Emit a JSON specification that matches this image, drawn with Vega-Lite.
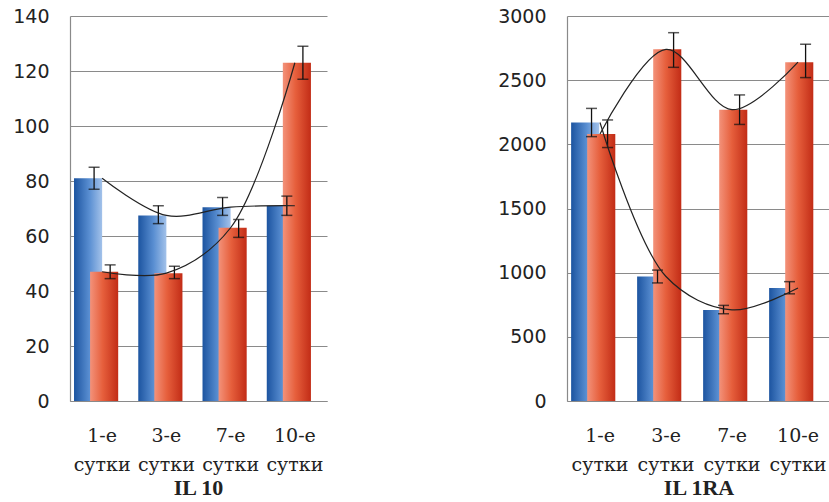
{
  "$schema": "https://vega.github.io/schema/vega-lite/v6.json",
  "padding": {"left": 12, "top": 7, "right": 0, "bottom": 0},
  "spacing": 170,
  "background": "white",
  "config": {
    "view": {"stroke": null},
    "axis": {"domainColor": "#8a8a8a", "gridColor": "#8a8a8a", "ticks": false, "domainWidth": 1.2}
  },
  "datasets": {
    "il10": [
      {"day": "1-е сутки", "s": "b", "v": 81, "lo": 77, "hi": 85},
      {"day": "3-е сутки", "s": "b", "v": 67.5, "lo": 64.5, "hi": 71},
      {"day": "7-е сутки", "s": "b", "v": 70.5, "lo": 67.5, "hi": 74},
      {"day": "10-е сутки", "s": "b", "v": 71, "lo": 67.5, "hi": 74.5},
      {"day": "1-е сутки", "s": "r", "v": 47, "lo": 44.5, "hi": 49.5},
      {"day": "3-е сутки", "s": "r", "v": 46.5, "lo": 44.5, "hi": 49},
      {"day": "7-е сутки", "s": "r", "v": 63, "lo": 59.5, "hi": 66},
      {"day": "10-е сутки", "s": "r", "v": 123, "lo": 117, "hi": 129}
    ],
    "il1ra": [
      {"day": "1-е сутки", "s": "b", "v": 2170, "lo": 2060, "hi": 2280},
      {"day": "3-е сутки", "s": "b", "v": 970, "lo": 920, "hi": 1020},
      {"day": "7-е сутки", "s": "b", "v": 710, "lo": 680, "hi": 745},
      {"day": "10-е сутки", "s": "b", "v": 880, "lo": 835, "hi": 930},
      {"day": "1-е сутки", "s": "r", "v": 2080, "lo": 1975, "hi": 2190},
      {"day": "3-е сутки", "s": "r", "v": 2740, "lo": 2600, "hi": 2870},
      {"day": "7-е сутки", "s": "r", "v": 2270, "lo": 2155, "hi": 2385},
      {"day": "10-е сутки", "s": "r", "v": 2640, "lo": 2520, "hi": 2780}
    ]
  },
  "hconcat": [
    {
      "width": 257,
      "height": 385,
      "data": {"name": "il10"},
      "title": {"text": "IL 10", "orient": "bottom", "font": "Liberation Serif", "fontSize": 22, "fontWeight": "bold", "color": "#222", "offset": 4},
      "encoding": {
        "x": {"field": "day", "type": "nominal", "sort": ["1-е сутки", "3-е сутки", "7-е сутки", "10-е сутки"],
              "scale": {"paddingInner": 0.5, "paddingOuter": 0.25},
              "axis": {"title": null, "labelAngle": 0, "labelExpr": "split(datum.label, ' ')", "labelFont": "DejaVu Serif", "labelFontSize": 19, "labelLineHeight": 29, "labelPadding": 25, "labelColor": "#222", "grid": false}},
        "y": {"type": "quantitative", "scale": {"domain": [0, 140]},
              "axis": {"title": null, "values": [0, 20, 40, 60, 80, 100, 120, 140], "format": "d", "labelFont": "DejaVu Sans", "labelFontSize": 19, "labelColor": "#222", "labelPadding": 21, "grid": true}}
      },
      "layer": [
        {"transform": [{"filter": "datum.s === 'b'"}],
         "mark": {"type": "bar", "width": {"band": 1.75}, "fill": {"gradient": "linear", "x1": 0, "y1": 0, "x2": 1, "y2": 0, "stops": [{"offset": 0, "color": "#1c54a0"}, {"offset": 0.55, "color": "#5a8fd2"}, {"offset": 1, "color": "#a3c2ea"}]}},
         "encoding": {"xOffset": {"field": "s", "scale": {"domain": ["b", "r"], "paddingInner": 0, "paddingOuter": 0}}, "y": {"field": "v", "type": "quantitative"}}},
        {"transform": [{"filter": "datum.s === 'r'"}],
         "mark": {"type": "bar", "width": {"band": 1.75}, "fill": {"gradient": "linear", "x1": 0, "y1": 0, "x2": 1, "y2": 0, "stops": [{"offset": 0, "color": "#f3927a"}, {"offset": 0.45, "color": "#e65f3c"}, {"offset": 1, "color": "#c22c16"}]}},
         "encoding": {"xOffset": {"field": "s", "scale": {"domain": ["b", "r"], "paddingInner": 0, "paddingOuter": 0}}, "y": {"field": "v", "type": "quantitative"}}},
        {"mark": {"type": "rule", "color": "#111", "strokeWidth": 1.3},
         "encoding": {"xOffset": {"field": "s"}, "y": {"field": "lo", "type": "quantitative"}, "y2": {"field": "hi"}}},
        {"mark": {"type": "tick", "color": "#111", "size": 11, "thickness": 1.5, "orient": "horizontal"},
         "encoding": {"xOffset": {"field": "s"}, "y": {"field": "lo", "type": "quantitative"}}},
        {"mark": {"type": "tick", "color": "#111", "size": 11, "thickness": 1.5, "orient": "horizontal"},
         "encoding": {"xOffset": {"field": "s"}, "y": {"field": "hi", "type": "quantitative"}}},
        {"mark": {"type": "line", "interpolate": "catmull-rom", "color": "#222", "strokeWidth": 1.2},
         "encoding": {"y": {"field": "v", "type": "quantitative"}, "detail": {"field": "s"}}}
      ]
    },
    {
      "width": 264,
      "height": 385,
      "data": {"name": "il1ra"},
      "title": {"text": "IL 1RA", "orient": "bottom", "font": "Liberation Serif", "fontSize": 22, "fontWeight": "bold", "color": "#222", "offset": 4},
      "encoding": {
        "x": {"field": "day", "type": "nominal", "sort": ["1-е сутки", "3-е сутки", "7-е сутки", "10-е сутки"],
              "scale": {"paddingInner": 0.5, "paddingOuter": 0.25},
              "axis": {"title": null, "labelAngle": 0, "labelExpr": "split(datum.label, ' ')", "labelFont": "DejaVu Serif", "labelFontSize": 19, "labelLineHeight": 29, "labelPadding": 25, "labelColor": "#222", "grid": false}},
        "y": {"type": "quantitative", "scale": {"domain": [0, 3000]},
              "axis": {"title": null, "values": [0, 500, 1000, 1500, 2000, 2500, 3000], "format": "d", "labelFont": "DejaVu Sans", "labelFontSize": 19, "labelColor": "#222", "labelPadding": 21, "grid": true}}
      },
      "layer": [
        {"transform": [{"filter": "datum.s === 'b'"}],
         "mark": {"type": "bar", "width": {"band": 1.75}, "fill": {"gradient": "linear", "x1": 0, "y1": 0, "x2": 1, "y2": 0, "stops": [{"offset": 0, "color": "#1c54a0"}, {"offset": 0.55, "color": "#5a8fd2"}, {"offset": 1, "color": "#a3c2ea"}]}},
         "encoding": {"xOffset": {"field": "s", "scale": {"domain": ["b", "r"], "paddingInner": 0, "paddingOuter": 0}}, "y": {"field": "v", "type": "quantitative"}}},
        {"transform": [{"filter": "datum.s === 'r'"}],
         "mark": {"type": "bar", "width": {"band": 1.75}, "fill": {"gradient": "linear", "x1": 0, "y1": 0, "x2": 1, "y2": 0, "stops": [{"offset": 0, "color": "#f3927a"}, {"offset": 0.45, "color": "#e65f3c"}, {"offset": 1, "color": "#c22c16"}]}},
         "encoding": {"xOffset": {"field": "s", "scale": {"domain": ["b", "r"], "paddingInner": 0, "paddingOuter": 0}}, "y": {"field": "v", "type": "quantitative"}}},
        {"mark": {"type": "rule", "color": "#111", "strokeWidth": 1.3},
         "encoding": {"xOffset": {"field": "s"}, "y": {"field": "lo", "type": "quantitative"}, "y2": {"field": "hi"}}},
        {"mark": {"type": "tick", "color": "#111", "size": 11, "thickness": 1.5, "orient": "horizontal"},
         "encoding": {"xOffset": {"field": "s"}, "y": {"field": "lo", "type": "quantitative"}}},
        {"mark": {"type": "tick", "color": "#111", "size": 11, "thickness": 1.5, "orient": "horizontal"},
         "encoding": {"xOffset": {"field": "s"}, "y": {"field": "hi", "type": "quantitative"}}},
        {"mark": {"type": "line", "interpolate": "catmull-rom", "color": "#222", "strokeWidth": 1.2},
         "encoding": {"y": {"field": "v", "type": "quantitative"}, "detail": {"field": "s"}}}
      ]
    }
  ]
}
